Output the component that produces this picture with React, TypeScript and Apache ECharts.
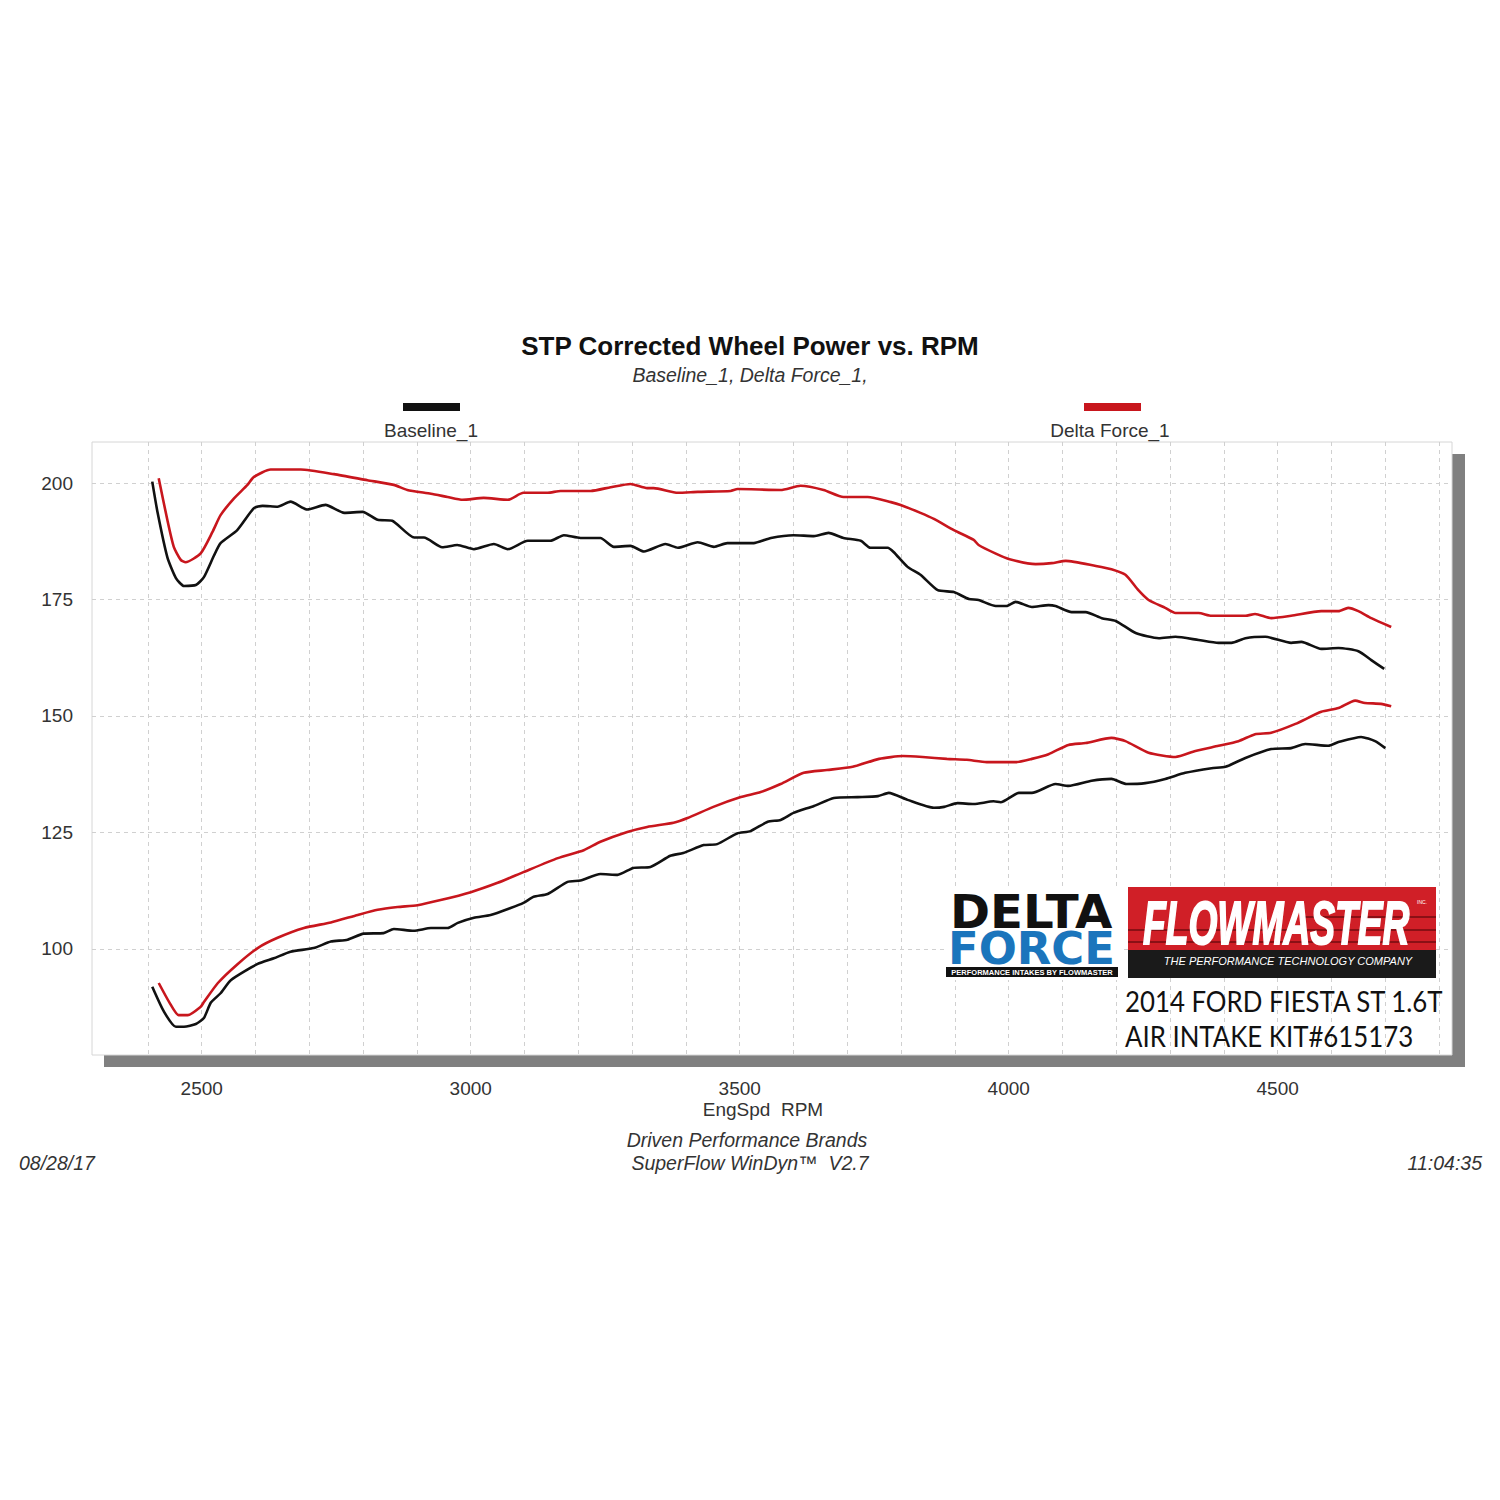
import React, { useEffect, useRef } from 'react';
import * as echarts from 'echarts';

const TITLE = 'STP Corrected Wheel Power vs. RPM';
const SUBTITLE = 'Baseline_1, Delta Force_1,';
const SERIES_NAMES = ['Baseline_1', 'Delta Force_1'];
const X_AXIS_NAME = 'EngSpd  RPM';
const X_TICK_LABELS = [2500, 3000, 3500, 4000, 4500];
const X_GRID_VALUES = [2400, 2500, 2600, 2700, 2800, 2900, 3000, 3100, 3200, 3300, 3400, 3500, 3600, 3700, 3800, 3900, 4000, 4100, 4200, 4300, 4400, 4500, 4600, 4700, 4800];
const Y_TICK_LABELS = [100, 125, 150, 175, 200];
const FOOTER_LINES = ['Driven Performance Brands', 'SuperFlow WinDyn\u2122  V2.7'];
const FOOTER_DATE = '08/28/17';
const FOOTER_TIME = '11:04:35';
const PRODUCT_LINES = ['2014 FORD FIESTA ST 1.6T', 'AIR INTAKE KIT#615173'];

// Baseline_1 — upper curve (power)
const baselineUpperRpm = [2408, 2418, 2436, 2452, 2467, 2489, 2504, 2523, 2535, 2566, 2597, 2613, 2641, 2665, 2696, 2730, 2765, 2799, 2827, 2854, 2895, 2913, 2947, 2975, 3006, 3043, 3069, 3106, 3148, 3173, 3204, 3241, 3266, 3297, 3322, 3362, 3385, 3422, 3452, 3477, 3526, 3558, 3600, 3638, 3665, 3693, 3725, 3743, 3775, 3786, 3812, 3836, 3868, 3898, 3926, 3944, 3976, 3996, 4013, 4043, 4074, 4087, 4117, 4143, 4173, 4199, 4236, 4279, 4310, 4353, 4390, 4414, 4440, 4477, 4525, 4544, 4581, 4613, 4650, 4674, 4698];
const baselineUpper = [200.3, 193.6, 184.1, 179.6, 177.9, 178.1, 179.8, 184.5, 187.1, 189.9, 194.6, 195.1, 194.9, 196.0, 194.3, 195.3, 193.6, 193.8, 192.1, 191.9, 188.3, 188.3, 186.2, 186.7, 185.8, 186.9, 185.8, 187.6, 187.6, 188.8, 188.2, 188.2, 186.3, 186.5, 185.3, 186.9, 186.1, 187.3, 186.3, 187.1, 187.1, 188.2, 188.8, 188.6, 189.3, 188.2, 187.6, 186.1, 186.1, 185.2, 182.0, 180.3, 177.0, 176.6, 175.1, 174.9, 173.6, 173.6, 174.5, 173.4, 173.8, 173.6, 172.3, 172.3, 171.0, 170.4, 167.8, 166.7, 167.0, 166.3, 165.7, 165.7, 166.7, 167.0, 165.7, 165.9, 164.4, 164.6, 163.9, 162.0, 160.1];

// Delta Force_1 — upper curve (power)
const deltaUpperRpm = [2420, 2436, 2448, 2461, 2470, 2498, 2520, 2535, 2560, 2585, 2597, 2628, 2684, 2746, 2808, 2857, 2882, 2926, 2957, 2985, 3024, 3069, 3098, 3143, 3167, 3223, 3260, 3297, 3328, 3340, 3385, 3422, 3483, 3496, 3576, 3613, 3656, 3693, 3738, 3781, 3799, 3836, 3861, 3898, 3935, 3944, 3975, 4000, 4050, 4080, 4106, 4162, 4191, 4217, 4241, 4260, 4291, 4310, 4353, 4377, 4440, 4458, 4488, 4525, 4581, 4613, 4631, 4650, 4674, 4711];
const deltaUpper = [201.0, 192.1, 186.3, 183.5, 183.0, 184.9, 189.5, 193.1, 196.7, 199.6, 201.3, 202.9, 202.9, 201.9, 200.6, 199.6, 198.5, 197.7, 197.0, 196.4, 196.8, 196.4, 197.9, 197.9, 198.3, 198.3, 199.1, 199.8, 198.9, 198.9, 197.9, 198.1, 198.3, 198.7, 198.5, 199.4, 198.5, 197.0, 197.0, 195.9, 195.3, 193.6, 192.3, 189.9, 187.8, 186.7, 184.9, 183.7, 182.6, 182.8, 183.3, 182.2, 181.5, 180.3, 177.0, 174.9, 173.2, 172.1, 172.1, 171.5, 171.5, 171.9, 171.0, 171.5, 172.5, 172.5, 173.2, 172.5, 171.0, 169.1];

// Baseline_1 — lower curve
const baselineLowerRpm = [2408, 2430, 2452, 2467, 2489, 2504, 2517, 2535, 2554, 2604, 2634, 2665, 2708, 2740, 2771, 2801, 2838, 2857, 2894, 2926, 2957, 2976, 3006, 3037, 3074, 3098, 3117, 3143, 3180, 3204, 3241, 3273, 3302, 3334, 3371, 3395, 3433, 3458, 3495, 3520, 3552, 3576, 3600, 3638, 3675, 3719, 3757, 3777, 3812, 3861, 3880, 3905, 3935, 3972, 3985, 4019, 4043, 4087, 4111, 4154, 4191, 4219, 4254, 4291, 4328, 4377, 4403, 4440, 4488, 4525, 4551, 4594, 4613, 4655, 4681, 4700];
const baselineLower = [91.9, 86.5, 83.3, 83.3, 83.9, 85.2, 88.5, 90.5, 93.3, 96.8, 98.0, 99.4, 100.2, 101.6, 102.0, 103.3, 103.4, 104.3, 103.9, 104.5, 104.5, 105.6, 106.7, 107.3, 108.8, 109.9, 111.2, 111.8, 114.4, 114.7, 116.1, 115.9, 117.4, 117.6, 120.0, 120.6, 122.3, 122.5, 124.8, 125.3, 127.3, 127.7, 129.2, 130.7, 132.4, 132.6, 132.8, 133.5, 132.0, 130.3, 130.5, 131.3, 131.1, 131.7, 131.5, 133.5, 133.5, 135.4, 135.0, 136.1, 136.5, 135.4, 135.6, 136.5, 137.8, 138.8, 139.1, 141.0, 142.9, 143.1, 144.0, 143.6, 144.4, 145.5, 144.6, 143.1];

// Delta Force_1 — lower curve
const deltaLowerRpm = [2420, 2440, 2457, 2474, 2498, 2504, 2530, 2567, 2604, 2641, 2690, 2740, 2790, 2827, 2864, 2901, 2944, 3000, 3050, 3098, 3162, 3210, 3241, 3291, 3328, 3377, 3403, 3451, 3502, 3539, 3576, 3619, 3662, 3710, 3759, 3803, 3840, 3885, 3922, 3959, 4013, 4043, 4074, 4111, 4143, 4191, 4217, 4260, 4310, 4347, 4390, 4427, 4458, 4488, 4533, 4581, 4613, 4644, 4662, 4692, 4711];
const deltaLower = [92.7, 88.5, 85.8, 85.8, 87.6, 88.6, 92.7, 96.8, 100.2, 102.4, 104.5, 105.7, 107.3, 108.4, 109.0, 109.4, 110.5, 112.2, 114.2, 116.5, 119.5, 121.2, 123.0, 125.1, 126.2, 127.1, 128.1, 130.5, 132.6, 133.7, 135.4, 137.8, 138.4, 139.1, 140.8, 141.4, 141.2, 140.8, 140.6, 140.1, 140.1, 140.8, 141.8, 143.8, 144.2, 145.3, 144.6, 142.1, 141.2, 142.5, 143.6, 144.6, 146.1, 146.4, 148.3, 150.9, 151.7, 153.3, 152.8, 152.6, 152.1];

const BLACK = '#111111';
const RED = '#c8161d';
const TEXT = '#333333';
const FONT = 'Liberation Sans';

const pairs = (xs: number[], ys: number[]) => xs.map((x, i) => [x, ys[i]]);

export default function App() {
  const ref = useRef<HTMLDivElement>(null);
  useEffect(() => {
    if (!ref.current) return;
    const chart = echarts.init(ref.current, undefined, { renderer: 'svg' });
    const lineSeries = (name: string, data: number[][], color: string) => ({
      type: 'line',
      name,
      data,
      showSymbol: false,
      symbol: 'none',
      smooth: 0.2,
      lineStyle: { color, width: 2.6 },
      itemStyle: { color },
      z: 5,
    });
    const legendCommon = {
      icon: 'rect',
      itemWidth: 57,
      itemHeight: 8,
      top: 403,
      padding: 0,
      selectedMode: false,
      formatter: () => '',
      textStyle: { fontSize: 1 },
    };
    const txt = (x: number, y: number, text: string, extra: any = {}) => ({
      type: 'text',
      x,
      y,
      z: 50,
      style: { text, fontFamily: FONT, fontSize: 19.5, fill: TEXT, align: 'center', verticalAlign: 'middle', ...extra },
    });
    const Z = 100;
    const option: any = {
      animation: false,
      backgroundColor: '#ffffff',
      title: {
        text: TITLE,
        subtext: SUBTITLE,
        left: 'center',
        top: 328,
        itemGap: 6,
        textStyle: { fontFamily: FONT, fontWeight: 'bold', fontSize: 26, color: '#111' },
        subtextStyle: { fontFamily: FONT, fontStyle: 'italic', fontSize: 19.5, color: TEXT },
      },
      legend: [
        { ...legendCommon, left: 403, data: [SERIES_NAMES[0]] },
        { ...legendCommon, left: 1084, data: [SERIES_NAMES[1]] },
      ],
      grid: {
        left: 92,
        top: 442,
        width: 1360,
        height: 613,
        show: true,
        backgroundColor: '#ffffff',
        borderColor: '#d6d6d6',
        borderWidth: 1,
      },
      xAxis: {
        type: 'value',
        min: 2296,
        max: 4824,
        name: X_AXIS_NAME,
        nameLocation: 'middle',
        nameGap: 45,
        nameTextStyle: { fontFamily: FONT, fontSize: 19, color: TEXT, padding: [0, 18, 0, 0] },
        axisLine: { show: false },
        axisTick: { show: false, customValues: X_GRID_VALUES },
        axisLabel: {
          margin: 24,
          fontFamily: FONT,
          fontSize: 19,
          color: TEXT,
          customValues: X_TICK_LABELS,
          formatter: (v: number) => String(Math.round(v)),
        },
        splitLine: { show: true, lineStyle: { color: '#d0d0d0', type: [4, 4], width: 1 } },
      },
      yAxis: {
        type: 'value',
        min: 77.25,
        max: 208.8,
        axisLine: { show: false },
        axisTick: { show: false, customValues: Y_TICK_LABELS },
        axisLabel: {
          margin: 19,
          fontFamily: FONT,
          fontSize: 19,
          color: TEXT,
          customValues: Y_TICK_LABELS,
          formatter: (v: number) => String(Math.round(v)),
        },
        splitLine: { show: true, lineStyle: { color: '#d0d0d0', type: [4, 4], width: 1 } },
      },
      series: [
        lineSeries(SERIES_NAMES[0], pairs(baselineUpperRpm, baselineUpper), BLACK),
        lineSeries(SERIES_NAMES[1], pairs(deltaUpperRpm, deltaUpper), RED),
        lineSeries(SERIES_NAMES[0], pairs(baselineLowerRpm, baselineLower), BLACK),
        lineSeries(SERIES_NAMES[1], pairs(deltaLowerRpm, deltaLower), RED),
      ],
      graphic: [
        // drop shadow behind the plot area
        { type: 'rect', z: -10, shape: { x: 104, y: 454, width: 1361, height: 613 }, style: { fill: '#808080' }, silent: true },
        // legend captions
        txt(431, 430, SERIES_NAMES[0], { fontSize: 19 }),
        txt(1110, 430, SERIES_NAMES[1], { fontSize: 19 }),
        // footer
        txt(747, 1140, FOOTER_LINES[0], { fontStyle: 'italic' }),
        txt(750, 1163, FOOTER_LINES[1], { fontStyle: 'italic' }),
        txt(19, 1163, FOOTER_DATE, { fontStyle: 'italic', align: 'left' }),
        txt(1482, 1163, FOOTER_TIME, { fontStyle: 'italic', align: 'right' }),
        // Delta Force logo
        { type: 'rect', z: Z, shape: { x: 944, y: 889, width: 178, height: 91 }, style: { fill: '#ffffff' } },
        { type: 'text', z: Z, x: 950, y: 912, scaleX: 1.05, style: { text: 'DELTA', fontFamily: 'DejaVu Sans', fontWeight: 'bold', fontSize: 46, fill: '#111', verticalAlign: 'middle' } },
        { type: 'text', z: Z, x: 948, y: 949, scaleX: 1.02, style: { text: 'FORCE', fontFamily: 'DejaVu Sans', fontWeight: 'bold', fontSize: 44, fill: '#1b75bc', verticalAlign: 'middle' } },
        { type: 'rect', z: Z, shape: { x: 946, y: 967, width: 172, height: 10 }, style: { fill: '#111' } },
        { type: 'text', z: Z + 1, x: 1032, y: 972.5, style: { text: 'PERFORMANCE INTAKES BY FLOWMASTER', fontFamily: FONT, fontWeight: 'bold', fontSize: 7.5, fill: '#fff', align: 'center', verticalAlign: 'middle' } },
        // Flowmaster logo
        { type: 'rect', z: Z, shape: { x: 1128, y: 887, width: 308, height: 64 }, style: { fill: '#d01f27' } },
        { type: 'rect', z: Z, shape: { x: 1300, y: 916, width: 136, height: 2 }, style: { fill: '#8a1015' } },
        { type: 'rect', z: Z, shape: { x: 1128, y: 929, width: 308, height: 2 }, style: { fill: '#8a1015' } },
        { type: 'rect', z: Z, shape: { x: 1128, y: 941, width: 308, height: 2 }, style: { fill: '#8a1015' } },
        { type: 'rect', z: Z, shape: { x: 1128, y: 950, width: 308, height: 28 }, style: { fill: '#1a1a1a' } },
        { type: 'text', z: Z + 1, x: 1143, y: 923, scaleX: 0.6, style: { text: 'FLOWMASTER', fontFamily: FONT, fontWeight: 'bold', fontStyle: 'italic', fontSize: 62, fill: '#ffffff', stroke: '#ffffff', lineWidth: 2, verticalAlign: 'middle' } },
        { type: 'text', z: Z + 1, x: 1417, y: 899, style: { text: 'INC.', fontFamily: FONT, fontSize: 5, fill: '#fff' } },
        { type: 'text', z: Z + 1, x: 1288, y: 961, style: { text: 'THE PERFORMANCE TECHNOLOGY COMPANY', fontFamily: FONT, fontStyle: 'italic', fontSize: 11, fill: '#ffffff', align: 'center', verticalAlign: 'middle' } },
        { type: 'text', z: Z, x: 1125, y: 1001, scaleX: 0.89, style: { text: PRODUCT_LINES[0], fontFamily: 'Lato', fontSize: 29, fill: '#111', verticalAlign: 'middle' } },
        { type: 'text', z: Z, x: 1125, y: 1036, scaleX: 0.89, style: { text: PRODUCT_LINES[1], fontFamily: 'Lato', fontSize: 29, fill: '#111', verticalAlign: 'middle' } },
      ],
    };
    chart.setOption(option);
    return () => chart.dispose();
  }, []);
  return <div ref={ref} style={{ position: 'fixed', left: 0, top: 0, width: 1500, height: 1500 }} />;
}
